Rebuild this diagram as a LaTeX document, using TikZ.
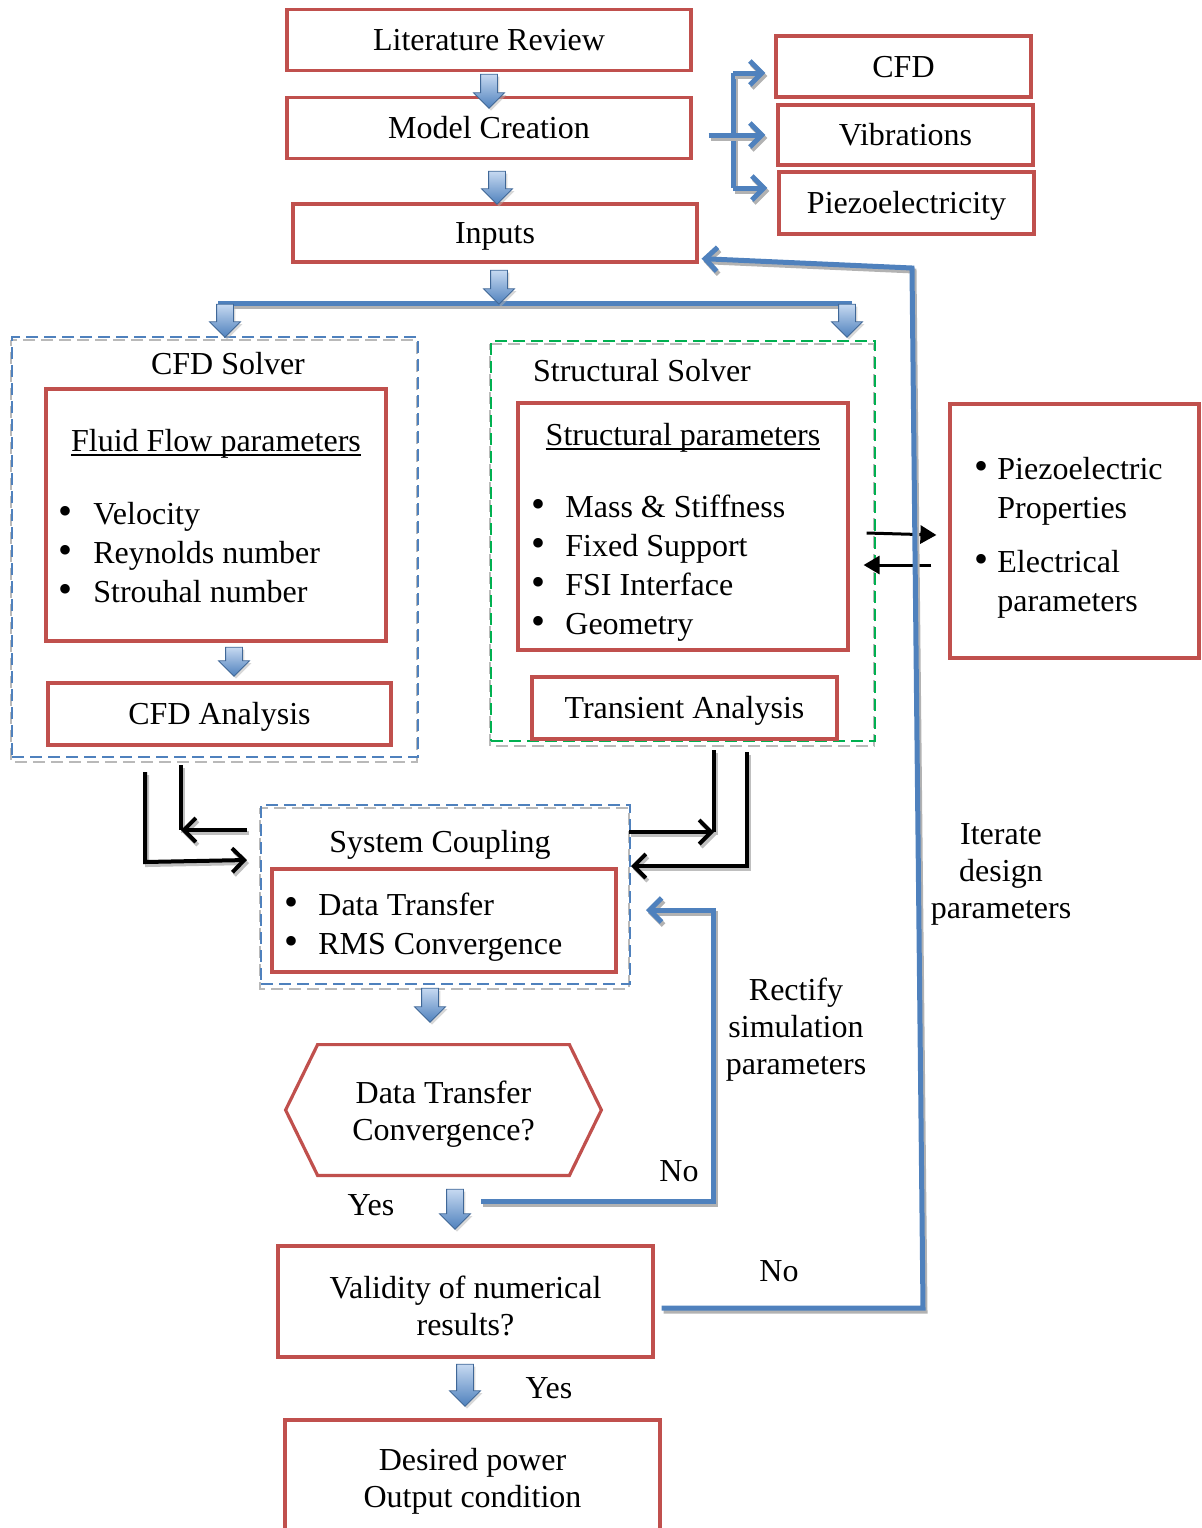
\documentclass[tikz,border=0pt]{standalone}
\usepackage{fontspec}
\setmainfont{Liberation Serif}
\usepackage{tikz}
\usetikzlibrary{arrows.meta,shapes.arrows,shadows,backgrounds}
\definecolor{boxred}{HTML}{C0504D}
\definecolor{lineblue}{HTML}{4F81BD}
\definecolor{lightblue}{HTML}{C6D9F1}
\definecolor{solvergreen}{HTML}{00B050}
\newcommand{\listdot}[1][17pt]{\makebox[#1][l]{\scalebox{1.25}{\textbullet}}}
\newsavebox{\ulbox}
\newcommand{\ulinetext}[1]{\sbox{\ulbox}{#1}\rlap{\rule[-2pt]{\wd\ulbox}{0.7pt}}\usebox{\ulbox}}

\begin{document}
\begin{tikzpicture}[x=0.5pt,y=-0.5pt,
  every node/.style={font=\fontsize{16pt}{18.5pt}\selectfont,align=center},
  redbox/.style={draw=boxred,line width=1.6pt},
  oneline/.style={text height=10.5pt,text depth=0pt},
  solverbox/.style={draw=#1,line width=1pt,dash pattern=on 6pt off 3pt},
  dashshadow/.style={draw=gray!55,line width=1pt,dash pattern=on 6pt off 3pt,dash phase=3pt},
  downarrow/.style={single arrow,shape border rotate=270,draw=lineblue!80!black,line width=0.4pt,
    top color=lightblue,bottom color=lineblue,inner sep=4pt,single arrow head extend=3.5pt,
    single arrow head indent=0pt,minimum height=#1,
    drop shadow={shadow xshift=1pt,shadow yshift=-1.2pt,fill=gray!60}},
  blueline/.style={draw=lineblue,line width=2.5pt,
    preaction={draw=gray!60,line width=2.5pt,transform canvas={shift={(1pt,-1.5pt)}}}},
  blkline/.style={draw=black,line width=2pt,
    preaction={draw=gray!50,line width=2pt,transform canvas={shift={(1pt,-1.5pt)}}}},
  barb/.style={-{Straight Barb[length=6pt,width=12pt]}},
  list/.style={align=left,inner sep=0pt,anchor=west,font=\fontsize{16pt}{19.5pt}\selectfont}]
\useasboundingbox (0,0) rectangle (1201,1528);
\clip (0,0) rectangle (1201,1528);

% top of the chart
\node[redbox,oneline,minimum width=202pt,minimum height=30.5pt] (lit) at (489,40) {Literature Review};
\node[redbox,oneline,minimum width=202pt,minimum height=30.5pt] (model) at (489,128) {Model Creation};
\node[redbox,oneline,minimum width=202pt,minimum height=29pt] (inputs) at (495,233) {Inputs};
\node[redbox,oneline,minimum width=127.5pt,minimum height=30.5pt] (cfd) at (903.5,66.5) {CFD};
\node[redbox,oneline,minimum width=127.5pt,minimum height=30pt] (vib) at (905.5,135) {Vibrations};
\node[redbox,oneline,minimum width=127.5pt,minimum height=31pt] (piezo) at (906.5,203) {Piezoelectricity};

% model creation splits into three topics
\coordinate (brT) at (733,73);
\coordinate (brB) at (733,188);
\draw[blueline] (brT) -- (brB);
\draw[blueline,barb,shorten >=4.5pt] (brT) -- (brT -| cfd.west);
\draw[blueline,barb] ([shift={(16,7)}]model.east) -- ([xshift=-5.5pt]vib.west);
\draw[blueline,barb,shorten >=5pt] (brB) -- (brB -| piezo.west);

% split to both solvers
\coordinate (barL) at (218,303);
\coordinate (barR) at (852,303);
\draw[blueline] (barL) -- (barR);

% CFD solver
\node[solverbox=lineblue,minimum width=203pt,minimum height=210pt] (cfdsolver) at (215,547) {};
\node[oneline] (cfdlbl) at (228,364) {CFD Solver};
\node[redbox,minimum width=170pt,minimum height=126pt] (fluidpar) at (216,515) {};
\node[oneline] (fluidttl) at (216,441) {\ulinetext{Fluid Flow parameters}};
\node[list] (fluidlist) at (58,553) {\listdot[17.5pt]Velocity\\\listdot[17.5pt]Reynolds number\\\listdot[17.5pt]Strouhal number};
\node[redbox,oneline,minimum width=171.5pt,minimum height=31pt] (cfdana) at (219.5,714) {CFD Analysis};

% structural solver
\node[solverbox=solvergreen,minimum width=192pt,minimum height=200pt] (structsolver) at (683,541) {};
\node[oneline] (structlbl) at (642,371) {Structural Solver};
\node[redbox,minimum width=165pt,minimum height=123.5pt] (structpar) at (683,526.5) {};
\node[oneline] (structttl) at (683,435) {\ulinetext{Structural parameters}};
\node[list] (structlist) at (531,568.5) {\listdot Mass \& Stiffness\\\listdot Fixed Support\\\listdot FSI Interface\\\listdot Geometry};
\node[redbox,oneline,minimum width=152.5pt,minimum height=31pt] (transient) at (684.5,708) {Transient Analysis};

% piezoelectric side
\node[redbox,minimum width=124.5pt,minimum height=127pt] (piezopar) at (1074.5,531) {};
\node[list] (piezolist) at (974,538) {\listdot[11.5pt]Piezoelectric\\\hspace*{11.5pt}Properties\\[7.5pt]\listdot[11.5pt]Electrical\\\hspace*{11.5pt}parameters};
\draw[line width=1.5pt,-{Triangle[length=8pt,width=9pt]}] ([shift={(17,6.5)}]structpar.east) -- ([shift={(-12,4)}]piezopar.west);
\draw[line width=1.5pt,-{Triangle[length=8pt,width=9pt]}] ([shift={(-17,34)}]piezopar.west) -- ([shift={(14,38.5)}]structpar.east);

% system coupling
\node[solverbox=lineblue,minimum width=184.5pt,minimum height=89.5pt] (coupling) at (445.5,894.5) {};
\node[oneline] (couplbl) at (440,842) {System Coupling};
\node[redbox,minimum width=172pt,minimum height=51.5pt] (transfer) at (444,920.5) {};
\node[list] (transferlist) at (284,927) {\listdot Data Transfer\\\listdot RMS Convergence};

\begin{scope}[on background layer]
\draw[dashshadow] ([yshift=-2pt]cfdsolver.north west) rectangle ([shift={(-1pt,-2pt)}]cfdsolver.south east);
\draw[dashshadow] ([yshift=-2pt]structsolver.north west) rectangle ([shift={(-1pt,-2pt)}]structsolver.south east);
\draw[dashshadow] ([yshift=-2pt]coupling.north west) rectangle ([shift={(-1pt,-2pt)}]coupling.south east);
\end{scope}

% exchange between solvers and coupling
\coordinate (liTop) at (181,765);
\coordinate (liCorner) at (181,830);
\coordinate (loTop) at (145,772);
\coordinate (loCorner) at (145,862);
\coordinate (riTop) at (714,750);
\coordinate (riCorner) at (714,832);
\coordinate (roTop) at (747,752);
\coordinate (roCorner) at (747,866);
\draw[blkline] (liTop) -- (liCorner);
\draw[blkline,barb] ([shift={(-13,-64.5)}]coupling.west) -- (liCorner);
\draw[blkline,barb] (loTop) -- (loCorner) -- ([shift={(-13,-34.5)}]coupling.west);
\draw[blkline] (riTop) -- (riCorner);
\draw[blkline,barb] ([shift={(-2,-62.5)}]coupling.east) -- (riCorner);
\draw[blkline,barb] (roTop) -- (roCorner) -- ([yshift=14.25pt]coupling.east);

% decisions
\node[minimum width=125.5pt,minimum height=65pt] (conv) at (443.5,1110) {};
\node (convtxt) at (443.5,1114) {Data Transfer\\Convergence?};
\draw[redbox] (conv.north west) -- (conv.north east) -- ([xshift=16pt]conv.east) -- (conv.south east)
  -- (conv.south west) -- ([xshift=-16pt]conv.west) -- cycle;
\node[redbox,minimum width=187.5pt,minimum height=55.5pt] (valid) at (465.5,1301.5) {};
\node (validtxt) at (465.5,1306) {Validity of numerical\\results?};
\node[redbox,minimum width=187.5pt,minimum height=60pt] (desired) at (472.5,1480) {};
\node (desiredtxt) at (472.5,1481) {Desired power\\Output condition};

\node[oneline] (yes1) at (371,1205) {Yes};
\node[oneline] (no1) at (679,1171) {No};
\node[oneline] (yes2) at (549,1388) {Yes};
\node[oneline] (no2) at (779,1271) {No};
\node (rectify) at (796,1030) {Rectify\\simulation\\parameters};
\node (iterate) at (1001,874) {Iterate\\design\\parameters};

% feedback loops
\coordinate (noStart) at (481,1201);
\coordinate (rcTop) at (713,910);
\draw[blueline,barb] (noStart) -| (rcTop) -- ([shift={(15,15.5)}]coupling.east);
\coordinate (itA) at (923,1308);
\coordinate (itB) at (912,268);
\draw[blueline,barb] ([shift={(7,6.5)}]valid.east) -- (itA) -- (itB) -- ([shift={(3,-5)}]inputs.south east);

% block arrows
\node[downarrow=17pt] (a1) at (489,87) {};
\node[downarrow=16.5pt] (a2) at (497,183.5) {};
\node[downarrow=17pt] (a3) at (499,283) {};
\node[downarrow=16.5pt] (a4) at (225,316.5) {};
\node[downarrow=16.5pt] (a5) at (847,316.5) {};
\node[downarrow=14.5pt] (a6) at (234,657.5) {};
\node[downarrow=17pt] (a7) at (430,1001) {};
\node[downarrow=20pt] (a8) at (455,1205) {};
\node[downarrow=21pt] (a9) at (465,1381) {};
\end{tikzpicture}
\end{document}
